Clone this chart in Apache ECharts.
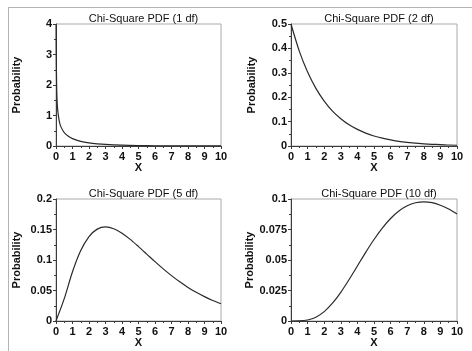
<!DOCTYPE html>
<html>
<head>
<meta charset="utf-8">
<script src="https://cdn.jsdelivr.net/npm/echarts@6/dist/echarts.min.js"></script>
<style>
  html, body { margin: 0; padding: 0; background: #fff; }
  #frame { position: absolute; left: 8px; top: 7px; width: 464px; height: 344px;
           border-left: 1px solid #b4b4b4; border-top: 1px solid #b4b4b4; }
  #chart { position: absolute; left: 0; top: 0; width: 472px; height: 351px; }
</style>
</head>
<body>
<div id="frame"></div>
<div id="chart"></div>
<script>
// values
const titles = ["Chi-Square PDF (1 df)", "Chi-Square PDF (2 df)", "Chi-Square PDF (5 df)", "Chi-Square PDF (10 df)"];
const xTicks = [0, 1, 2, 3, 4, 5, 6, 7, 8, 9, 10];

const df1X = [0.01, 0.02, 0.05, 0.1, 0.2, 0.3, 0.5, 0.75, 1, 1.5, 2, 2.5, 3, 4, 5, 6, 7, 8, 9, 10];
const df1Y = [3.97, 2.79, 1.74, 1.2, 0.807, 0.627, 0.439, 0.317, 0.242, 0.154, 0.104, 0.072, 0.051, 0.027, 0.0147, 0.0081, 0.0046, 0.0026, 0.0015, 0.0009];

const halfX = [0, 0.5, 1, 1.5, 2, 2.5, 3, 3.5, 4, 4.5, 5, 5.5, 6, 6.5, 7, 7.5, 8, 8.5, 9, 9.5, 10];
const df2Y = [0.5, 0.389, 0.303, 0.236, 0.184, 0.143, 0.112, 0.087, 0.068, 0.053, 0.041, 0.032, 0.025, 0.019, 0.015, 0.012, 0.009, 0.007, 0.006, 0.004, 0.003];
const df5Y = [0, 0.0366, 0.0807, 0.1154, 0.1384, 0.1506, 0.1542, 0.1513, 0.144, 0.1338, 0.122, 0.1097, 0.0973, 0.0854, 0.0744, 0.0642, 0.0551, 0.047, 0.0399, 0.0337, 0.0283];
const df10Y = [0, 0.00006, 0.0008, 0.0031, 0.0077, 0.0146, 0.0235, 0.034, 0.0451, 0.0563, 0.0668, 0.0762, 0.084, 0.0901, 0.0944, 0.0969, 0.0977, 0.097, 0.0949, 0.0918, 0.0877];

const yTicks1 = ["0", "1", "2", "3", "4"];
const yTicks2 = ["0", "0.1", "0.2", "0.3", "0.4", "0.5"];
const yTicks5 = ["0", "0.05", "0.1", "0.15", "0.2"];
const yTicks10 = ["0", "0.025", "0.05", "0.075", "0.1"];

const FONT = "Liberation Sans, Arial, sans-serif";
const AXIS = "#3c3c3c";

const grids = [
  { left: 56, top: 24, width: 165, height: 122 },
  { left: 291, top: 24, width: 166, height: 122 },
  { left: 56, top: 199, width: 165, height: 122 },
  { left: 291, top: 199, width: 166, height: 122 },
];

const panels = [
  { x: df1X, y: df1Y, ticks: yTicks1 },
  { x: halfX, y: df2Y, ticks: yTicks2 },
  { x: halfX, y: df5Y, ticks: yTicks5 },
  { x: halfX, y: df10Y, ticks: yTicks10 },
];

const chart = echarts.init(document.getElementById("chart"), null, { renderer: "canvas" });

const option = {
  animation: false,
  title: grids.map((g, i) => ({
    text: titles[i],
    left: g.left + g.width / 2,
    top: g.top - 16,
    textAlign: "center",
    textStyle: { fontFamily: FONT, fontSize: 11, fontWeight: "normal", color: "#111" },
  })),
  grid: grids.map((g) => ({
    ...g,
    show: true,
    borderColor: "#aaaaaa",
    borderWidth: 1,
    backgroundColor: "transparent",
  })),
  xAxis: grids.map((g, i) => ({
    type: "value",
    gridIndex: i,
    min: xTicks[0],
    max: xTicks[xTicks.length - 1],
    interval: 1,
    name: "X",
    nameLocation: "middle",
    nameGap: 13,
    nameTextStyle: { fontFamily: FONT, fontSize: 11, fontWeight: "bold", color: "#111" },
    axisLine: { lineStyle: { color: AXIS, width: 1 } },
    axisTick: { length: 3, lineStyle: { color: AXIS } },
    minorTick: { show: true, splitNumber: 2, length: 2, lineStyle: { color: AXIS } },
    splitLine: { show: false },
    axisLabel: { fontFamily: FONT, fontSize: 11, fontWeight: "bold", color: "#111", margin: 5 },
  })),
  yAxis: panels.map((p, i) => {
    const vals = p.ticks.map(Number);
    return {
      type: "value",
      gridIndex: i,
      min: vals[0],
      max: vals[vals.length - 1],
      interval: vals[1] - vals[0],
      name: "Probability",
      nameLocation: "middle",
      nameGap: 34,
      nameTextStyle: { fontFamily: FONT, fontSize: 11, fontWeight: "bold", color: "#111" },
      axisLine: { lineStyle: { color: AXIS, width: 1 } },
      axisTick: { length: 3, lineStyle: { color: AXIS } },
      minorTick: { show: true, splitNumber: 2, length: 2, lineStyle: { color: AXIS } },
      splitLine: { show: false },
      axisLabel: {
        fontFamily: FONT, fontSize: 11, fontWeight: "bold", color: "#111", margin: 4,
        formatter: (v) => {
          const k = vals.findIndex((t) => Math.abs(t - v) < 1e-9);
          return k >= 0 ? p.ticks[k] : "";
        },
      },
    };
  }),
  series: panels.map((p, i) => ({
    type: "line",
    xAxisIndex: i,
    yAxisIndex: i,
    data: p.x.map((x, k) => [x, p.y[k]]),
    smooth: 0.3,
    showSymbol: false,
    clip: true,
    lineStyle: { color: "#2a2a2a", width: 1.2 },
  })),
};

chart.setOption(option);
</script>
</body>
</html>
